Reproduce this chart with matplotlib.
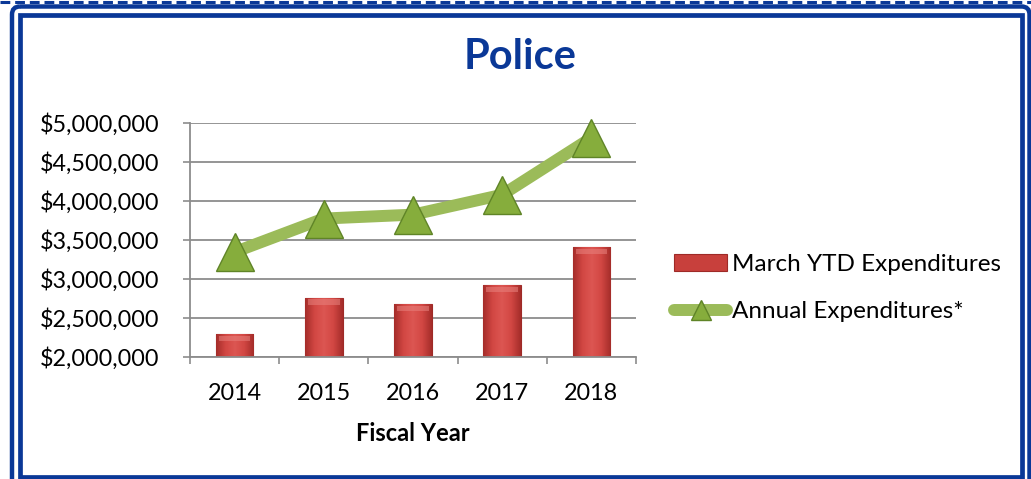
import numpy as np
import matplotlib
matplotlib.use("Agg")
import matplotlib.pyplot as plt
from matplotlib.patches import FancyBboxPatch, Rectangle
from matplotlib.colors import LinearSegmentedColormap

plt.rcParams['font.family'] = ['Lato', 'DejaVu Sans']

years = ['2014', '2015', '2016', '2017', '2018']
march_ytd = [2295000, 2760000, 2680000, 2920000, 3405000]
annual = [3345000, 3775000, 3825000, 4080000, 4810000]
y_ticks = [2000000, 2500000, 3000000, 3500000, 4000000, 4500000, 5000000]

navy = '#0A3897'
grid_grey = '#8C8C8C'
base = y_ticks[0]

fig = plt.figure(figsize=(10.31, 4.79), dpi=100)

# frame around the chart: dashed rule on top, rounded outer box, inner box
deco = fig.add_axes([0, 0, 1, 1])
deco.set_xlim(0, 1031)
deco.set_ylim(479, 0)
deco.axis('off')
deco.plot([0, 1031], [1.5, 1.5], color=navy, lw=2.2, linestyle=(0, (3.2, 1.6)))
deco.add_patch(FancyBboxPatch((12, 6.5), 1017.5, 500, boxstyle='round,pad=0,rounding_size=8',
                              fill=False, ec=navy, lw=3.2))
deco.add_patch(Rectangle((20, 15), 1002, 462, fill=False, ec=navy, lw=3.4))

ax = fig.add_axes([190 / 1031, 122 / 479, 446 / 1031, 234 / 479])
x = np.arange(len(years))

bars = ax.bar(x, np.array(march_ytd) - base, bottom=base, width=0.42,
              color='#C8403C', edgecolor='#9E2A27', linewidth=0.8, zorder=2,
              label='March YTD Expenditures')

# bevel-like shading inside each bar
bar_cmap = LinearSegmentedColormap.from_list(
    'bevel', ['#A52D2A', '#D24743', '#DC5652', '#D24743', '#A52D2A'])
shade = np.linspace(0, 1, 64).reshape(1, -1)
for b in bars:
    x0, y0 = b.get_x(), b.get_y()
    w, h = b.get_width(), b.get_height()
    im = ax.imshow(shade, cmap=bar_cmap, aspect='auto', zorder=2.1,
                   extent=(x0, x0 + w, y0, y0 + h))
    im.set_clip_path(b)
    top = Rectangle((x0 + w * 0.08, y0 + h - 90000), w * 0.84, 70000,
                    color='#E8827E', alpha=0.55, lw=0, zorder=2.2)
    ax.add_patch(top)

line, = ax.plot(x, annual, color='#9BBB59', lw=8.6, solid_capstyle='round', zorder=3,
                marker='^', markersize=28, markerfacecolor='#86AD3C',
                markeredgecolor='#5F8427', markeredgewidth=1.0,
                label='Annual Expenditures*', clip_on=False)

ax.set_xlim(-0.5, 4.5)
ax.set_ylim(base, 5000000)
ax.set_yticks(y_ticks)
ax.set_yticklabels(['${:,.0f}'.format(v) for v in y_ticks], fontsize=16.8)
ax.set_xticks(x)
ax.set_xticklabels(years, fontsize=16.8)
ax.set_xticks(np.arange(-0.5, 5, 1), minor=True)
ax.tick_params(axis='x', which='major', length=0, pad=19)
ax.tick_params(axis='x', which='minor', length=5, width=1.2, color=grid_grey)
ax.tick_params(axis='y', length=5, width=1.2, color=grid_grey, pad=17)

ax.yaxis.grid(True, color=grid_grey, lw=1.3, zorder=0)
ax.set_axisbelow(True)
for side in ['top', 'right']:
    ax.spines[side].set_visible(False)
for side in ['left', 'bottom']:
    ax.spines[side].set_color(grid_grey)
    ax.spines[side].set_linewidth(1.3)

ax.set_xlabel('Fiscal Year', fontsize=17, fontweight='bold', labelpad=13)

fig.text(520 / 1031, 1 - 57 / 479, 'Police', fontsize=30, fontweight='bold',
         color=navy, ha='center', va='center')

fig.legend(handles=[bars, line], loc='center left',
           bbox_to_anchor=(674 / 1031, 1 - 288 / 479),
           frameon=False, fontsize=17.5, handlelength=2.2, handletextpad=0.2,
           labelspacing=1.1, borderpad=0, borderaxespad=0, markerscale=0.5)

fig.savefig('out.png', dpi=100)
